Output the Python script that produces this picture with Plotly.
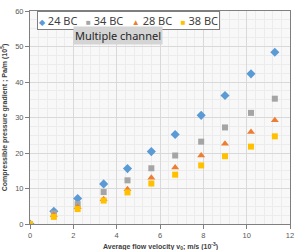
import plotly.graph_objects as go

velocity = [0, 1.1, 2.2, 3.4, 4.5, 5.6, 6.7, 7.9, 9.0, 10.2, 11.3]
bc24 = [0, 3.6, 7.2, 11.3, 15.6, 20.4, 25.2, 30.6, 36.2, 42.3, 48.4]
bc34 = [0, 3.0, 5.6, 9.0, 12.3, 15.7, 19.3, 23.2, 27.2, 31.3, 35.3]
bc28 = [0, 2.5, 4.7, 7.0, 9.8, 13.0, 15.9, 19.3, 22.6, 25.9, 29.2]
bc38 = [0, 2.0, 4.2, 6.6, 8.9, 11.4, 13.9, 16.5, 19.1, 21.8, 24.7]

series = [
    ("24 BC", bc24, "#5b9bd5", "diamond", 7, "\u25C6"),
    ("34 BC", bc34, "#a5a5a5", "square", 6, "\u25A0"),
    ("28 BC", bc28, "#ed7d31", "triangle-up", 7, "\u25B2"),
    ("38 BC", bc38, "#ffc000", "square", 6, "\u25A0"),
]

fig = go.Figure()
for name, vals, color, sym, size, glyph in series:
    fig.add_trace(go.Scatter(
        x=velocity, y=vals, mode="markers", name=name, showlegend=False,
        marker=dict(color=color, symbol=sym, size=size, line=dict(width=0)),
    ))

axis_common = dict(
    showline=True, linecolor="#7f7f7f", linewidth=1, mirror=True,
    gridcolor="#d9d9d9", gridwidth=1, zeroline=False, automargin=False,
    ticks="outside", ticklen=4, tickcolor="#7f7f7f",
    tickfont=dict(size=7.5, color="#595959", family="Liberation Sans"),
)

fig.update_xaxes(
    range=[0, 12], dtick=2, tick0=0,
    minor=dict(dtick=0.4, showgrid=True, gridcolor="#ececec", gridwidth=1),
    **axis_common,
)
fig.update_yaxes(
    range=[0, 60], dtick=10, tick0=0,
    minor=dict(dtick=2.5, showgrid=True, gridcolor="#ececec", gridwidth=1),
    title=dict(text="<b>Compressible pressure gradient ; Pa/m (10<sup>5</sup>)</b>",
               font=dict(size=7, color="#404040", family="Liberation Sans"), standoff=9),
    **axis_common,
)

# x-axis title (placed as annotation so it stays inside the small canvas)
fig.add_annotation(
    x=0.5, y=0, xref="paper", yref="paper", xanchor="center", yanchor="top",
    yshift=-16, showarrow=False,
    text="<b>Average flow velocity v<sub>0</sub>; m/s (10<sup>-3</sup>)</b>",
    font=dict(size=7, color="#404040", family="Liberation Sans"),
)

# legend box built from the series names and colours
legend_text = "&nbsp;&nbsp;&nbsp;".join(
    f'<span style="color:{color};font-size:8px">{glyph}</span> {name}'
    for name, _, color, _, _, glyph in series
)
fig.add_annotation(
    x=0.025, y=0.998, xref="paper", yref="paper", xanchor="left", yanchor="top",
    text=legend_text, showarrow=False, align="left",
    font=dict(size=11, color="#404040", family="Noto Sans"),
    bgcolor="white", bordercolor="#7f7f7f", borderwidth=1, borderpad=1,
)

fig.add_annotation(
    x=0.165, y=0.93, xref="paper", yref="paper", xanchor="left", yanchor="top",
    text="Multiple channel", showarrow=False,
    font=dict(size=11, color="#262626", family="Noto Sans"),
    bgcolor="#d4d4d4", borderpad=1,
)

fig.update_layout(
    width=296, height=250,
    margin=dict(l=30, r=6, t=11, b=26),
    paper_bgcolor="white", plot_bgcolor="#f8f8f8",
    showlegend=False,
)

fig.write_html("out.html", config={"displayModeBar": False},
               post_script="document.body.style.margin='0';")
